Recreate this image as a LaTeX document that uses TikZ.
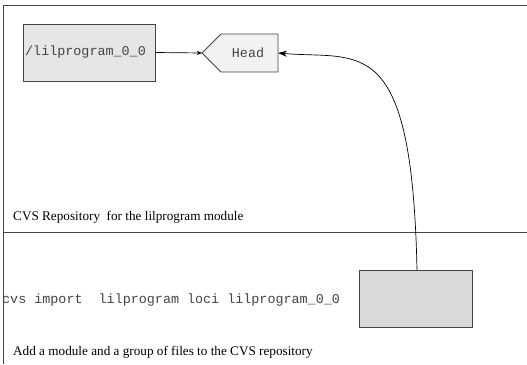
\documentclass[tikz,border=0pt]{standalone}
\usepackage{fontspec}
\setmainfont{Liberation Serif}
\setmonofont{Liberation Mono}
\usetikzlibrary{arrows.meta}
\definecolor{linegray}{HTML}{444444}
\definecolor{boxa}{HTML}{E6E6E6}
\definecolor{boxb}{HTML}{F2F2F2}
\definecolor{boxc}{HTML}{D9D9D9}
\definecolor{monotext}{HTML}{444444}
\tikzset{
  frameline/.style={draw=linegray, line width=0.9pt},
  boxstyle/.style={draw=linegray, line width=0.9pt},
  monolabel/.style={font=\fontsize{13.4}{15}\selectfont\ttfamily, text=monotext, inner sep=0pt},
  seriflabel/.style={font=\fontsize{13.2}{15}\selectfont, text=black, inner sep=0pt, anchor=west},
  conn/.style={draw=black, line width=0.7pt},
}
\begin{document}
\begin{tikzpicture}[x=1pt, y=-1pt]
\useasboundingbox (0,0) rectangle (527,364);
% frame
\draw[frameline] (527,5) -- (3,5) -- (3,364);
\draw[frameline] (3,232) -- (527,232);
% box 1
\node[boxstyle, fill=boxa, minimum width=132pt, minimum height=57pt, inner sep=0pt] (tag) at (89,52.5) {};
\node[monolabel, anchor=west] (taglabel) at (25,52.5) {/lilprogram\_0\_0};
% Head pentagon
\draw[boxstyle, fill=boxb] (202,53) -- (221,34) -- (278,34) -- (278,72) -- (221,72) -- cycle;
\coordinate (headtip) at (202,53);
\coordinate (headeast) at (278,53);
\node[monolabel] (head) at (248,53) {Head};
% lower box
\node[boxstyle, fill=boxc, minimum width=113pt, minimum height=57pt, inner sep=0pt] (work) at (415.5,298.5) {};
\coordinate (worktop) at (417,270);
% connectors
\draw[conn, -{Stealth[length=5pt, width=4pt]}] (tag.east) -- (headtip);
\draw[conn, -{Stealth[length=9pt, width=6pt]}] (worktop) .. controls (412,30) and (360,60) .. (headeast);
% labels
\node[seriflabel] (repo) at (13,217.5) {CVS Repository\ \ for the lilprogram module};
\node[monolabel, anchor=west] (cmd) at (2,300) {cvs import\ \ lilprogram loci lilprogram\_0\_0};
\node[seriflabel] (caption) at (13,352) {Add a module and a group of files to the CVS repository};
\end{tikzpicture}
\end{document}
